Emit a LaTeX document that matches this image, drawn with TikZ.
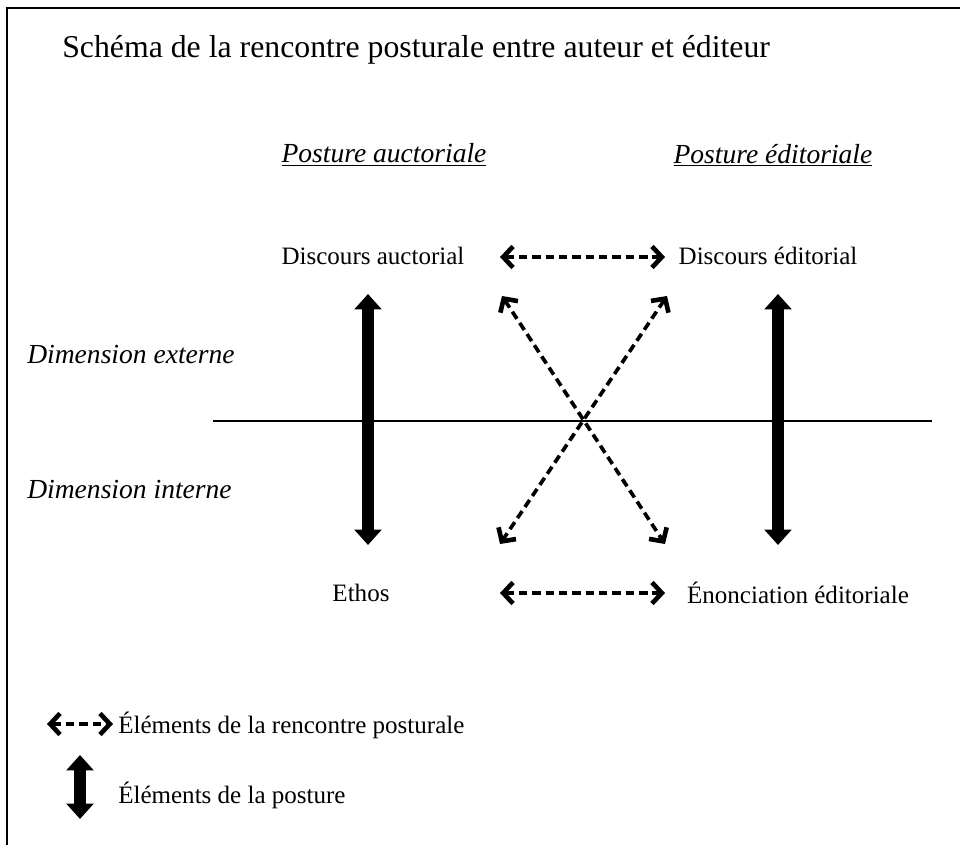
\documentclass[tikz,border=0pt]{standalone}
\usepackage{fontspec}
\setmainfont{Liberation Serif}
\usetikzlibrary{arrows.meta}

\begin{document}
\begin{tikzpicture}[x=0.025cm,y=-0.025cm,
  rencontre/.style={line width=2.3pt,dash pattern=on 6pt off 3.5pt,
    {Straight Barb[length=7pt,width=15pt,line width=3.3pt]}-{Straight Barb[length=7pt,width=15pt,line width=3.3pt]}},
  croise/.style={rencontre,line width=2.6pt},
  posture/.style={line width=8.5pt,{Triangle[length=11pt,width=19pt]}-{Triangle[length=11pt,width=19pt]}},
  txt/.style={inner sep=0pt,font=\fontsize{17.8}{20}\selectfont},
  ital/.style={inner sep=0pt,font=\fontsize{19.6}{22}\selectfont\itshape}]
\useasboundingbox (0,0) rectangle (960,845);
\draw[line width=1.8pt] (7,845) -- (7,8) -- (960,8);

% titre et colonnes
\node[txt,anchor=base west,font=\fontsize{22.6}{26}\selectfont] (titre) at (62,58) {Schéma de la rencontre posturale entre auteur et éditeur};
\node[ital] (pauct) at (384,155) {\underline{Posture auctoriale}};
\node[ital] (pedit) at (773,155) {\underline{Posture éditoriale}};

\node[txt] (dauct) at (373,256) {Discours auctorial};
\node[txt] (dedit) at (768,256) {Discours éditorial};
\node[txt] (ethos) at (361,593) {Ethos};
\node[txt] (enon) at (798,593) {Énonciation éditoriale};

\node[ital,anchor=west] (dext) at (27,355) {Dimension externe};
\node[ital,anchor=west] (dint) at (27,490) {Dimension interne};

% ligne de partage
\coordinate (sepg) at (213,421);
\coordinate (sepd) at (932,421);
\draw[line width=1.5pt] (sepg) -- (sepd);

% rencontre posturale
\coordinate (hg) at (500,257);
\coordinate (hd) at (665,257);
\coordinate (bg) at (500,593);
\coordinate (bd) at (665,593);
\coordinate (xhg) at (502,296);
\coordinate (xhd) at (667,296);
\coordinate (xbg) at (500,544);
\coordinate (xbd) at (665,544);
\draw[rencontre] (hg) -- (hd);
\draw[rencontre] (bg) -- (bd);
\draw[croise] (xhg) -- (xbd);
\draw[croise] (xhd) -- (xbg);

% postures
\coordinate (ah) at (368,294);
\coordinate (ab) at (368,545);
\coordinate (eh) at (778,294);
\coordinate (eb) at (778,545);
\draw[posture] (ah) -- (ab);
\draw[posture] (eh) -- (eb);

% legende
\coordinate (lrg) at (47,724);
\coordinate (lrd) at (113,724);
\draw[rencontre] (lrg) -- (lrd);
\node[txt,anchor=west] (lrenc) at (118,725) {Éléments de la rencontre posturale};
\coordinate (lph) at (80,755);
\coordinate (lpb) at (80,819);
\draw[posture] (lph) -- (lpb);
\node[txt,anchor=west] (lpost) at (118,795) {Éléments de la posture};
\end{tikzpicture}
\end{document}
